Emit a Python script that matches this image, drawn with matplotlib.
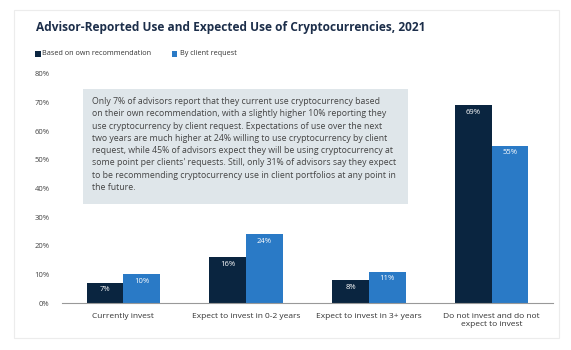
import matplotlib
matplotlib.use("Agg")
import matplotlib.pyplot as plt
from matplotlib.patches import Rectangle
import numpy as np

categories = ["Currently invest", "Expect to invest in 0-2 years",
              "Expect to invest in 3+ years", "Do not invest and do not\nexpect to invest"]
own_rec = [7, 16, 8, 69]
client_req = [10, 24, 11, 55]
series_names = ["Based on own recommendation", "By client request"]
yticks = [0, 10, 20, 30, 40, 50, 60, 70, 80]
title = "Advisor-Reported Use and Expected Use of Cryptocurrencies, 2021"
note = ("Only 7% of advisors report that they current use cryptocurrency based\n"
        "on their own recommendation, with a slightly higher 10% reporting they\n"
        "use cryptocurrency by client request. Expectations of use over the next\n"
        "two years are much higher at 24% willing to use cryptocurrency by client\n"
        "request, while 45% of advisors expect they will be using cryptocurrency at\n"
        "some point per clients' requests. Still, only 31% of advisors say they expect\n"
        "to be recommending cryptocurrency use in client portfolios at any point in\n"
        "the future.")

plt.rcParams['font.family'] = ['Open Sans', 'DejaVu Sans']
DARK = "#0a2540"
BLUE = "#2a7ac6"
W, H = 571, 350
fig = plt.figure(figsize=(W/100, H/100), dpi=100)
fig.patch.set_facecolor("white")

# card border
fig.patches.append(Rectangle((14/W, 1-338/H), (559-14)/W, (338-10)/H,
                             transform=fig.transFigure, fill=False,
                             edgecolor="#ececec", linewidth=0.8))

ax = fig.add_axes([62/W, 1-303/H, (553-62)/W, (303-74)/H])
x = np.arange(len(categories))
bw = 0.3
b1 = ax.bar(x - bw/2, own_rec, bw, color=DARK)
b2 = ax.bar(x + bw/2, client_req, bw, color=BLUE)
for bars, vals in ((b1, own_rec), (b2, client_req)):
    for r, v in zip(bars, vals):
        ax.text(r.get_x() + r.get_width()/2, v - 1.2, f"{v}%", ha="center", va="top",
                color="white", fontsize=5.5)

ax.set_xlim(-0.5, 3.5)
ax.set_ylim(0, 80)
ax.set_yticks(yticks)
ax.set_yticklabels([f"{t}%" for t in yticks], fontsize=5.5, color="#444444")
ax.set_xticks(x)
ax.set_xticklabels(categories, fontsize=6, color="#333333", linespacing=1.3)
ax.tick_params(length=0, axis="y", pad=9)
ax.tick_params(length=0, axis="x", pad=7)
for s in ("top", "right", "left"):
    ax.spines[s].set_visible(False)
ax.spines["bottom"].set_color("#999999")
ax.spines["bottom"].set_linewidth(0.8)

# note box
fig.patches.append(Rectangle((83/W, 1-204/H), (408-83)/W, (204-89)/H,
                             transform=fig.transFigure, facecolor="#dfe6ea",
                             edgecolor="none", zorder=3))
fig.text(92/W, 1-97/H, note, ha="left", va="top", fontsize=6.3, color="#444444",
         linespacing=1.47, zorder=4)

fig.text(36/W, 1-28/H, title, ha="left", va="center", fontsize=8.55,
         fontweight="bold", color="#1c2e4a")

# legend
for (lx, name, col) in ((35, series_names[0], DARK), (172, series_names[1], BLUE)):
    fig.patches.append(Rectangle((lx/W, 1-56.5/H), 5.5/W, 5.5/H,
                                 transform=fig.transFigure, facecolor=col,
                                 edgecolor="none"))
    fig.text((lx+7.5)/W, 1-53.8/H, name, ha="left", va="center", fontsize=5.2,
             color="#333333")

fig.savefig("out.png", dpi=100)
